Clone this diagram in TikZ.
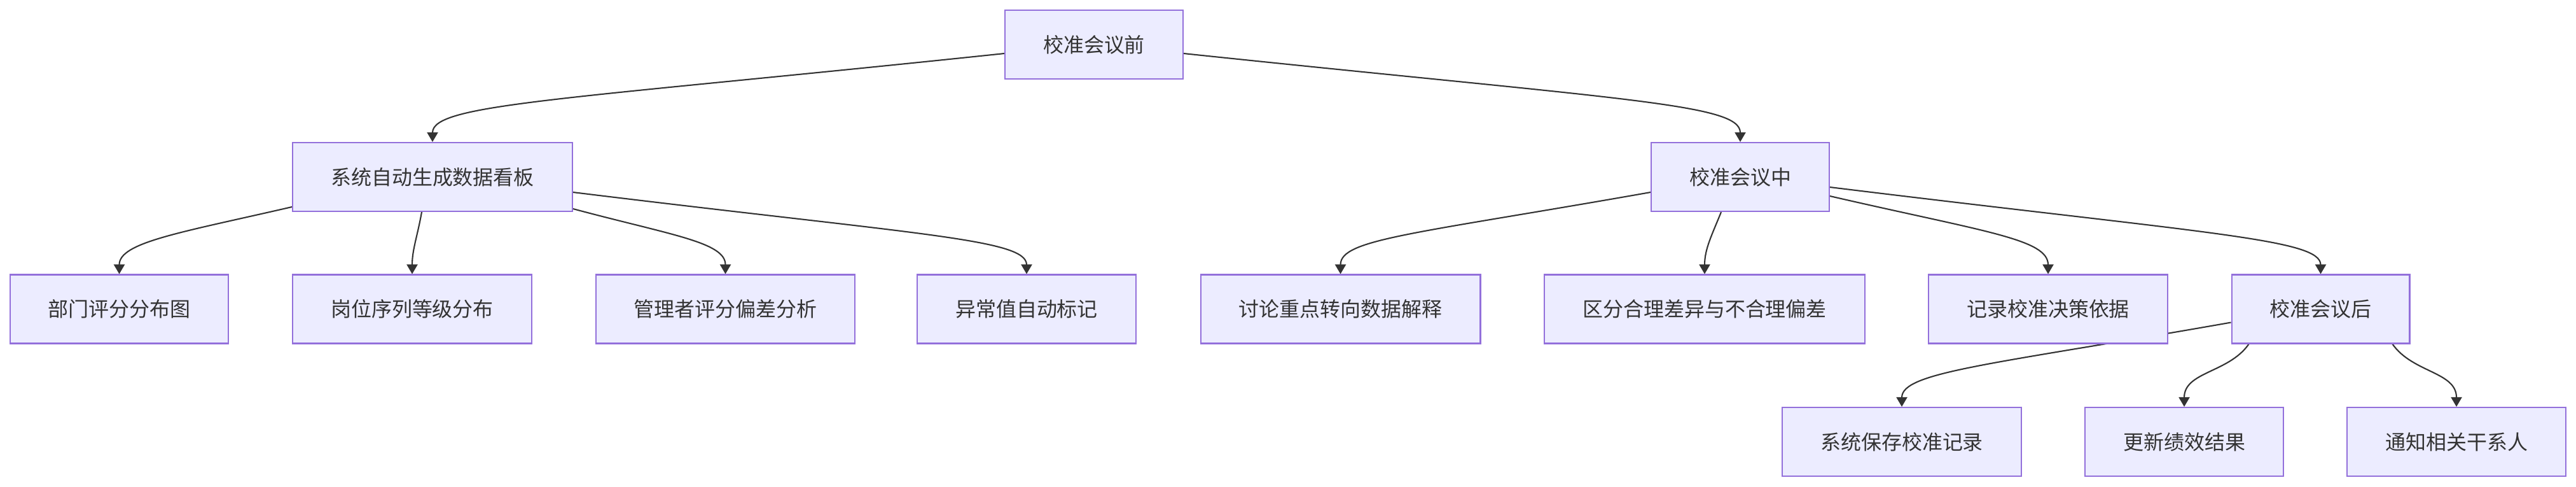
\documentclass[tikz,border=0pt]{standalone}
\usepackage{fontspec}
\setmainfont{Noto Sans CJK SC}
\usetikzlibrary{arrows.meta,backgrounds}

\definecolor{boxfill}{HTML}{ECECFF}
\definecolor{boxline}{HTML}{9370DB}
\definecolor{ink}{HTML}{333333}

\begin{document}
\begin{tikzpicture}[
    box/.style={draw=boxline, fill=boxfill, line width=0.6pt, text=ink,
        font=\fontsize{9.1pt}{11pt}\selectfont,
        inner xsep=0.6cm, inner ysep=0pt, minimum height=1.08cm},
    flow/.style={draw=ink, line width=0.6pt,
        -{Triangle[length=0.15cm,width=0.17cm]}}
]
    \useasboundingbox (0,0) rectangle (40.5,-7.64);

    % Top: before the meeting
    \node[box] (qian) at (17.20,-0.70) {校准会议前};

    % Level 1
    \node[box] (kanban) at (6.80,-2.78) {系统自动生成数据看板};
    \node[box] (zhong) at (27.36,-2.78) {校准会议中};

    % Level 2
    \node[box] (bumen) at (1.875,-4.855) {部门评分分布图};
    \node[box] (gangwei) at (6.48,-4.855) {岗位序列等级分布};
    \node[box] (guanli) at (11.405,-4.855) {管理者评分偏差分析};
    \node[box] (yichang) at (16.14,-4.855) {异常值自动标记};
    \node[box] (taolun) at (21.075,-4.855) {讨论重点转向数据解释};
    \node[box] (qufen) at (26.80,-4.855) {区分合理差异与不合理偏差};
    \node[box] (jilu) at (32.20,-4.855) {记录校准决策依据};
    \node[box] (hou) at (36.485,-4.855) {校准会议后};

    % Level 3
    \node[box] (baocun) at (29.90,-6.94) {系统保存校准记录};
    \node[box] (gengxin) at (34.34,-6.94) {更新绩效结果};
    \node[box] (tongzhi) at (38.62,-6.94) {通知相关干系人};

    % Connectors go under the boxes
    \begin{scope}[on background layer]
        \draw[flow] ([yshift=-0.14cm]qian.west) to[out=186, in=90, out distance=7cm, in distance=0.6cm] (kanban.north);
        \draw[flow] ([yshift=-0.14cm]qian.east) to[out=-6, in=90, out distance=7cm, in distance=0.6cm] (zhong.north);

        \draw[flow] ([yshift=-0.47cm]kanban.west) to[out=193, in=90, out distance=1.8cm, in distance=0.5cm] (bumen.north);
        \draw[flow] ([xshift=-0.17cm]kanban.south) to[out=-100, in=90] (gangwei.north);
        \draw[flow] ([yshift=-0.50cm]kanban.east) to[out=-15, in=90, out distance=1.6cm, in distance=0.5cm] (guanli.north);
        \draw[flow] ([yshift=-0.24cm]kanban.east) to[out=-7, in=90, out distance=5.5cm, in distance=0.55cm] (yichang.north);

        \draw[flow] ([yshift=-0.24cm]zhong.west) to[out=190, in=90, out distance=3.8cm, in distance=0.55cm] (taolun.north);
        \draw[flow] ([xshift=-0.30cm]zhong.south) to[out=-112, in=90] (qufen.north);
        \draw[flow] ([yshift=-0.30cm]zhong.east) to[out=-13, in=90, out distance=2.5cm, in distance=0.55cm] (jilu.north);
        \draw[flow] ([yshift=-0.16cm]zhong.east) to[out=-7, in=90, out distance=6cm, in distance=0.55cm] (hou.north);

        \draw[flow] ([yshift=-0.21cm]hou.west) to[out=190, in=90, out distance=3.8cm, in distance=0.55cm] (baocun.north);
        \draw[flow] ([xshift=-1.13cm]hou.south) to[out=-125, in=90] (gengxin.north);
        \draw[flow] ([xshift=1.13cm]hou.south) to[out=-55, in=90] (tongzhi.north);
    \end{scope}
\end{tikzpicture}
\end{document}
